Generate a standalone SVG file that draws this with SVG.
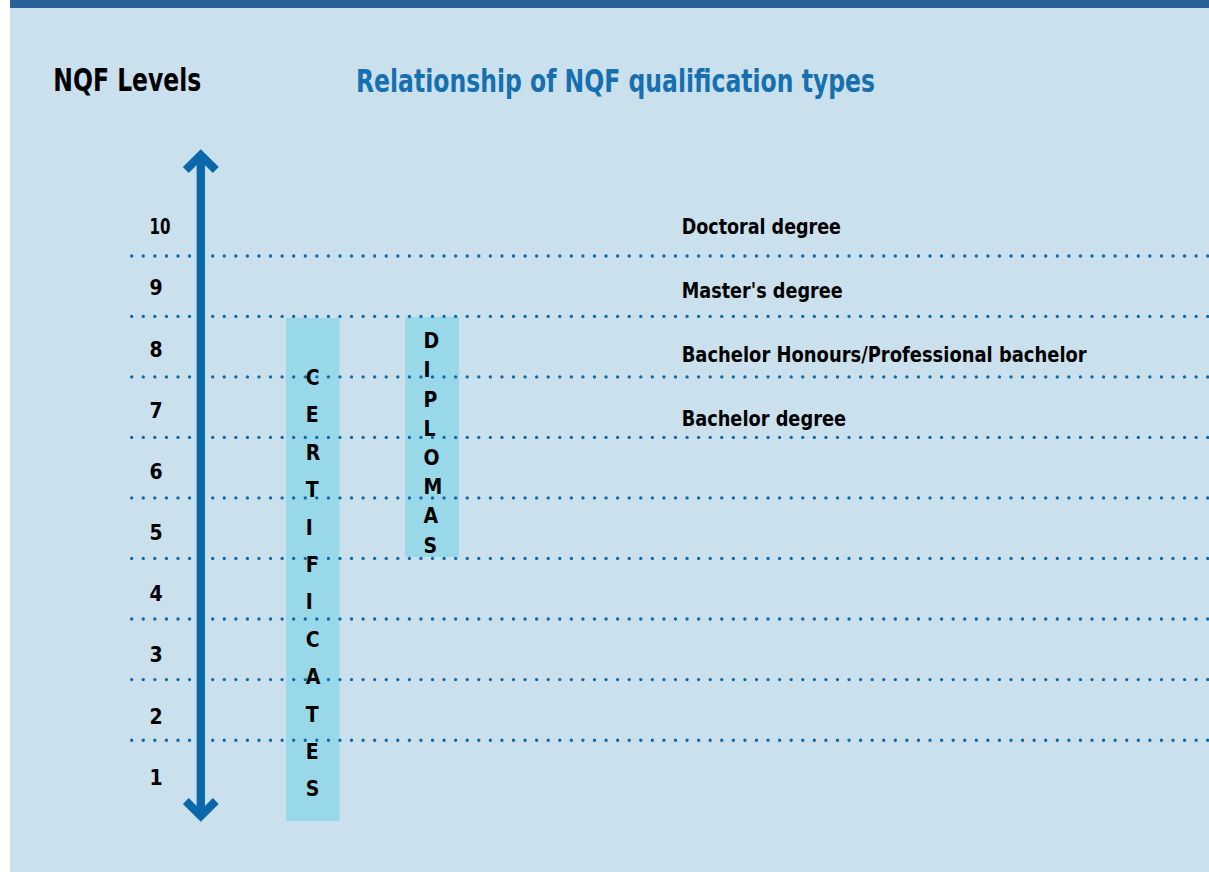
<svg xmlns="http://www.w3.org/2000/svg" width="1209" height="872" viewBox="0 0 1209 872">
  <style>
    .bg { fill: #cae0ed; }
    .bar { fill: #27629a; }
    .dots { stroke: #0b6aab; stroke-width: 3.4; stroke-linecap: round; stroke-dasharray: 0 11.57; fill: none; }
    .arrow { stroke: #0a68a9; stroke-width: 8.3; fill: none; stroke-linejoin: miter; stroke-miterlimit: 10; }
    .box { fill: #99d8e9; }
    .t { font-family: "DejaVu Sans Condensed", "Liberation Sans Narrow", "Liberation Sans", sans-serif; font-weight: bold; fill: #000; }
    .lbl { font-size: 21px; }
    .head { font-size: 32px; }
    .blue { fill: #1670b0; }
    .letter { font-size: 21px; }
  </style>
  <rect x="0" y="0" width="1209" height="872" fill="#ffffff"/>
  <rect class="bg" x="10" y="8" width="1199" height="864"/>
  <rect class="bar" x="10" y="0" width="1199" height="8"/>

  <g id="headers">
    <text class="t head" x="53.3" y="91" textLength="148" lengthAdjust="spacingAndGlyphs">NQF Levels</text>
    <text class="t head blue" x="356" y="92" textLength="519" lengthAdjust="spacingAndGlyphs">Relationship of NQF qualification types</text>
  </g>

  <g id="boxes">
    <rect id="certificates-box" class="box" x="286" y="318" width="53.5" height="503"/>
    <rect id="diplomas-box" class="box" x="405" y="317" width="54" height="240"/>
  </g>

  <g id="level-lines">
    <line class="dots" x1="131.7" y1="256" x2="1212" y2="256"/>
    <line class="dots" x1="131.7" y1="316.4" x2="1212" y2="316.4"/>
    <line class="dots" x1="131.7" y1="376.9" x2="1212" y2="376.9"/>
    <line class="dots" x1="131.7" y1="437.4" x2="1212" y2="437.4"/>
    <line class="dots" x1="131.7" y1="497.9" x2="1212" y2="497.9"/>
    <line class="dots" x1="131.7" y1="558.4" x2="1212" y2="558.4"/>
    <line class="dots" x1="131.7" y1="619" x2="1212" y2="619"/>
    <line class="dots" x1="131.7" y1="679.6" x2="1212" y2="679.6"/>
    <line class="dots" x1="131.7" y1="740.2" x2="1212" y2="740.2"/>
  </g>

  <g id="connectors">
    <line class="arrow" x1="200.8" y1="156" x2="200.8" y2="815"/>
    <polyline class="arrow" points="185.8,170 200.8,155 215.8,170"/>
    <polyline class="arrow" points="185.8,801 200.8,816 215.8,801"/>
  </g>

  <g id="levels">
    <text class="t lbl" x="149.5" y="234" textLength="21" lengthAdjust="spacingAndGlyphs">10</text>
    <text class="t lbl" x="149.5" y="295.2">9</text>
    <text class="t lbl" x="149.5" y="356.6">8</text>
    <text class="t lbl" x="149.5" y="417.8">7</text>
    <text class="t lbl" x="149.5" y="479">6</text>
    <text class="t lbl" x="149.5" y="540">5</text>
    <text class="t lbl" x="149.5" y="601.2">4</text>
    <text class="t lbl" x="149.5" y="662.4">3</text>
    <text class="t lbl" x="149.5" y="723.6">2</text>
    <text class="t lbl" x="149.5" y="784.8">1</text>
  </g>

  <g id="certificates">
    <text class="t letter"><tspan x="305.8" y="385">C</tspan><tspan x="305.8" y="422.4">E</tspan><tspan x="305.8" y="459.8">R</tspan><tspan x="305.8" y="497.2">T</tspan><tspan x="305.8" y="534.6">I</tspan><tspan x="305.8" y="572">F</tspan><tspan x="305.8" y="609.4">I</tspan><tspan x="305.8" y="646.8">C</tspan><tspan x="305.8" y="684.2">A</tspan><tspan x="305.8" y="721.6">T</tspan><tspan x="305.8" y="759">E</tspan><tspan x="305.8" y="796.4">S</tspan></text>
  </g>

  <g id="diplomas">
    <text class="t letter"><tspan x="423.5" y="348.3">D</tspan><tspan x="423.5" y="377.2">I</tspan><tspan x="423.5" y="406.6">P</tspan><tspan x="423.5" y="435.6">L</tspan><tspan x="423.5" y="464.9">O</tspan><tspan x="423.5" y="494.4">M</tspan><tspan x="423.5" y="523.3">A</tspan><tspan x="423.5" y="552.6">S</tspan></text>
  </g>

  <g id="qualifications">
    <text id="doctoral" class="t lbl" x="681.7" y="234" textLength="159.3" lengthAdjust="spacingAndGlyphs">Doctoral degree</text>
    <text id="masters" class="t lbl" x="681.7" y="298.3" textLength="161" lengthAdjust="spacingAndGlyphs">Master's degree</text>
    <text id="honours" class="t lbl" x="681.7" y="361.7" textLength="405" lengthAdjust="spacingAndGlyphs">Bachelor Honours/Professional bachelor</text>
    <text id="bachelor" class="t lbl" x="681.7" y="425.7" textLength="164.3" lengthAdjust="spacingAndGlyphs">Bachelor degree</text>
  </g>
</svg>
